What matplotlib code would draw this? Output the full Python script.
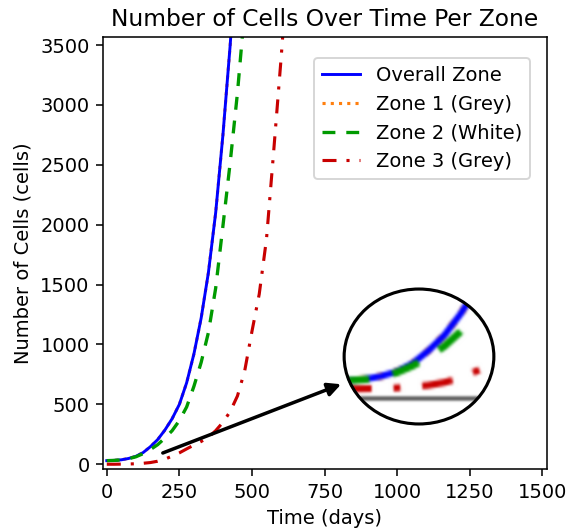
import numpy as np
import matplotlib
matplotlib.use("Agg")
import matplotlib.pyplot as plt
from matplotlib.figure import Figure
from matplotlib.backends.backend_agg import FigureCanvasAgg
from matplotlib.patches import Ellipse

DPI = 140

# Simulated cell counts sampled every 25 days
days = [0, 25, 50, 75, 100, 125, 150, 175, 200, 225, 250, 275, 300,
        325, 350, 375, 400, 425, 450, 475, 500, 525, 550, 575, 600, 625]

overall_cells = [30, 32, 37, 48, 66, 97, 146, 205, 285, 380, 500, 680, 920,
                 1220, 1600, 2100, 2750, 3500, 4400]
zone1_cells = [30, 32, 37, 48, 66, 97, 146, 205, 285, 380, 500, 680, 920,
               1220, 1600, 2100, 2750, 3500, 4400]
zone2_cells = [30, 32, 36, 46, 62, 88, 122, 163, 218, 280, 365, 478, 650,
               850, 1100, 1470, 1990, 2520, 3100, 3800]
zone3_cells = [0, 0, 1, 2, 4, 8, 14, 25, 42, 68, 95, 128, 160,
               190, 225, 280, 350, 440, 570, 780, 1110, 1420, 1880, 2620, 3380, 4200]

x_ticks = [0, 250, 500, 750, 1000, 1250, 1500]
y_ticks = [0, 500, 1000, 1500, 2000, 2500, 3000, 3500]

XLIM = (-12, 1515)
YLIM = (-40, 3565)


def draw_series(ax):
    ax.plot(days[:len(zone1_cells)], zone1_cells, color="#ff7f0e", linestyle=":",
            lw=1.6, label="Zone 1 (Grey)", zorder=1)
    ax.plot(days[:len(overall_cells)], overall_cells, color="#0000ff", lw=1.5,
            label="Overall Zone", zorder=2)
    ax.plot(days[:len(zone2_cells)], zone2_cells, color="#009a00", lw=1.7,
            dashes=(3.9, 3.3), label="Zone 2 (White)", zorder=2)
    ax.plot(days[:len(zone3_cells)], zone3_cells, color="#c80000", lw=1.6,
            dashes=(4.5, 3.2, 1.0, 3.2), label="Zone 3 (Grey)", zorder=2)


def render_zoom(width_px, height_px, tlim, vlim):
    # low resolution copy of the plot corner, later blown up
    zfig = Figure(figsize=(width_px / DPI, height_px / DPI), dpi=DPI)
    canvas = FigureCanvasAgg(zfig)
    zax = zfig.add_axes([0, 0, 1, 1])
    draw_series(zax)
    zax.axhline(YLIM[0], color="#333333", lw=0.8)
    zax.set_xlim(tlim)
    zax.set_ylim(vlim)
    zax.axis("off")
    canvas.draw()
    return np.asarray(canvas.buffer_rgba()).copy()


fig = plt.figure(figsize=(566 / DPI, 528 / DPI), dpi=DPI)
ax = fig.add_axes([0.1825, 0.1117, 0.7834, 0.8177])

draw_series(ax)

ax.set_xlim(XLIM)
ax.set_ylim(YLIM)
ax.set_xticks(x_ticks)
ax.set_yticks(y_ticks)
ax.set_xlabel("Time (days)")
ax.set_ylabel("Number of Cells (cells)")
ax.set_title("Number of Cells Over Time Per Zone")

handles, labels = ax.get_legend_handles_labels()
order = [1, 0, 2, 3]
ax.legend([handles[i] for i in order], [labels[i] for i in order],
          loc="upper right", bbox_to_anchor=(0.9623, 0.9514), borderaxespad=0)

# Arrow pointing at the magnified view
ax.annotate("", xy=(807, 668), xytext=(193, 94),
            arrowprops=dict(arrowstyle="-|>", color="black", lw=1.8,
                            mutation_scale=14, shrinkA=0, shrinkB=0))

# Magnified view of the early growth phase
zoom_img = render_zoom(69, 62, (16, 254), (-137, 384))
axin = fig.add_axes([343 / 566, 1 - 425 / 528, 152 / 566, 137 / 528])
im = axin.imshow(zoom_img, extent=(0, 1, 0, 1), aspect="auto",
                 interpolation="bicubic")
axin.set_xlim(0, 1)
axin.set_ylim(0, 1)
axin.axis("off")
clip = Ellipse((0.5, 0.5), 1, 1, transform=axin.transAxes)
im.set_clip_path(clip)
axin.add_patch(Ellipse((0.5, 0.5), 0.985, 0.985, transform=axin.transAxes,
                       fill=False, ec="black", lw=1.6, clip_on=False))

fig.savefig("out.png", dpi=DPI)
